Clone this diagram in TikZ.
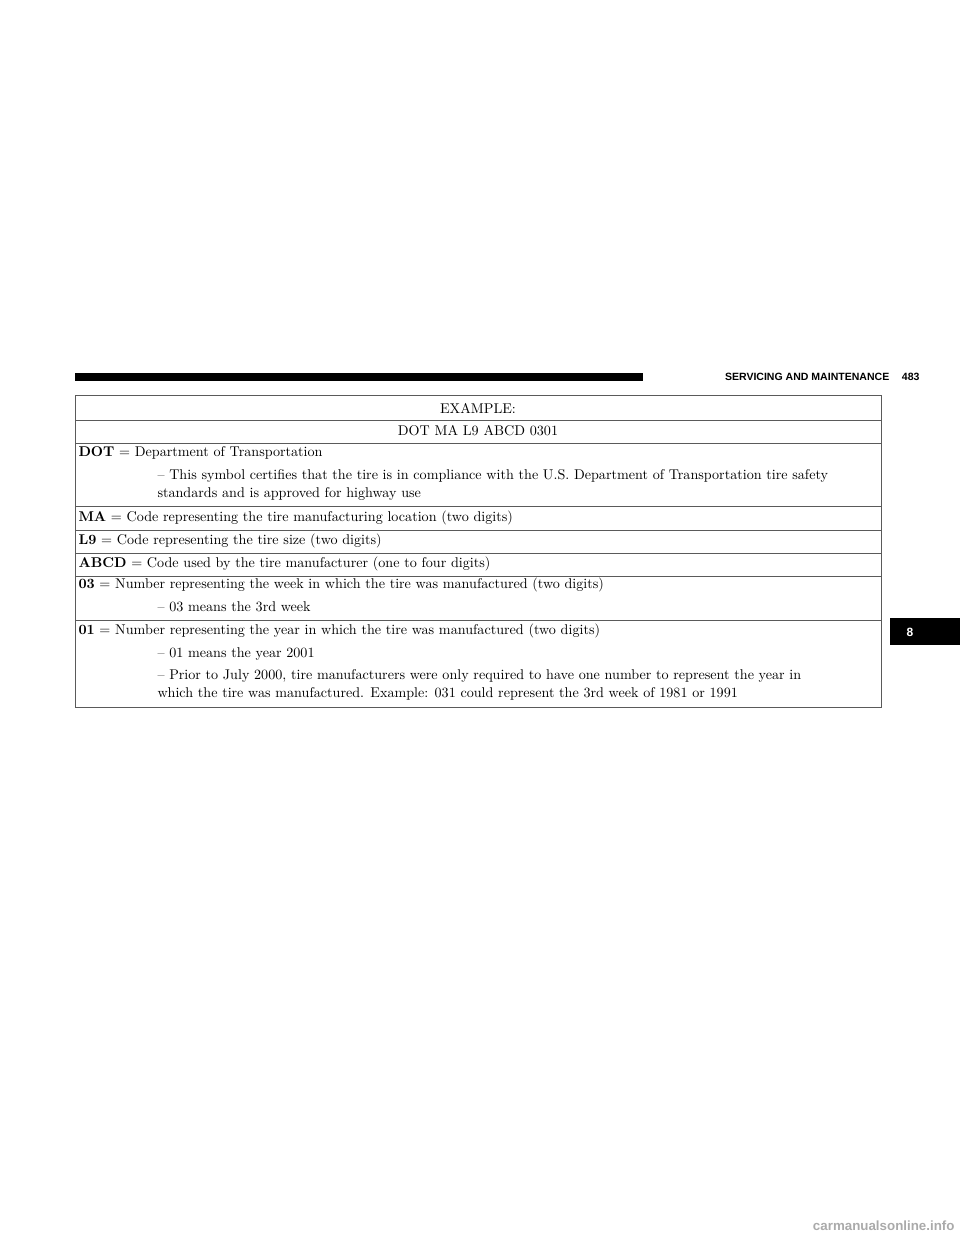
\documentclass[tikz,border=0pt]{standalone}
\usepackage{fontspec}
\newfontfamily\headfont{Liberation Sans}
\tikzset{every picture/.style={line width=0.75pt}}
\tikzset{
  rowtxt/.style={anchor=west,inner sep=0pt,font=\fontsize{10.6}{12}\selectfont},
  midtxt/.style={inner sep=0pt,font=\fontsize{10.6}{12}\selectfont},
  rule/.style={draw={rgb,255:red,90;green,90;blue,90},line width=0.6pt}
}
\begin{document}
\begin{tikzpicture}[x=0.75pt,y=0.75pt,yscale=-1,xscale=1]
\useasboundingbox (0,0) rectangle (960,1242);

% Header bar
\fill (75,373) rectangle (643,381);
\node (head) [anchor=east,inner sep=0pt,font=\headfont\bfseries\fontsize{7.9}{9}\selectfont] at (920,377) {SERVICING AND MAINTENANCE\hspace{1.2em}483};

% Table frame and rows
\draw [rule] (75,395) rectangle (881,707);
\foreach \yy in {420,443,506,530,553,576,620} {
  \draw [rule] (75,\yy) -- (881,\yy);
}

% Text Node
\node (ex) [midtxt] at (478,408) {EXAMPLE:};
\node (code) [midtxt] at (478,431) {DOT MA L9 ABCD 0301};
\node (dot) [rowtxt] at (78,453) {\textbf{DOT} = Department of Transportation};
\node (dota) [rowtxt] at (157,476) {-- This symbol certifies that the tire is in compliance with the U.S. Department of Transportation tire safety};
\node (dotb) [rowtxt] at (157,494) {standards and is approved for highway use};
\node (ma) [rowtxt] at (78,518) {\textbf{MA} = Code representing the tire manufacturing location (two digits)};
\node (lnine) [rowtxt] at (78,541) {\textbf{L9} = Code representing the tire size (two digits)};
\node (abcd) [rowtxt] at (78,564) {\textbf{ABCD} = Code used by the tire manufacturer (one to four digits)};
\node (wk) [rowtxt] at (78,585) {\textbf{03} = Number representing the week in which the tire was manufactured (two digits)};
\node (wka) [rowtxt] at (157,607) {-- 03 means the 3rd week};
\node (yr) [rowtxt] at (78,631) {\textbf{01} = Number representing the year in which the tire was manufactured (two digits)};
\node (yra) [rowtxt] at (157,654) {-- 01 means the year 2001};
\node (yrb) [rowtxt] at (157,676) {-- Prior to July 2000, tire manufacturers were only required to have one number to represent the year in};
\node (yrc) [rowtxt] at (157,694) {which the tire was manufactured. Example: 031 could represent the 3rd week of 1981 or 1991};

% Chapter tab
\fill (890,618) rectangle (960,645);
\node (tab) [text=white,inner sep=0pt,font=\headfont\bfseries\fontsize{9}{10}\selectfont] at (910,632) {8};

% Watermark
\node (mark) [anchor=east,inner sep=0pt,text={rgb,255:red,170;green,170;blue,170},font=\headfont\bfseries\fontsize{10}{12}\selectfont] at (955,1226) {carmanualsonline.info};
\end{tikzpicture}
\end{document}
